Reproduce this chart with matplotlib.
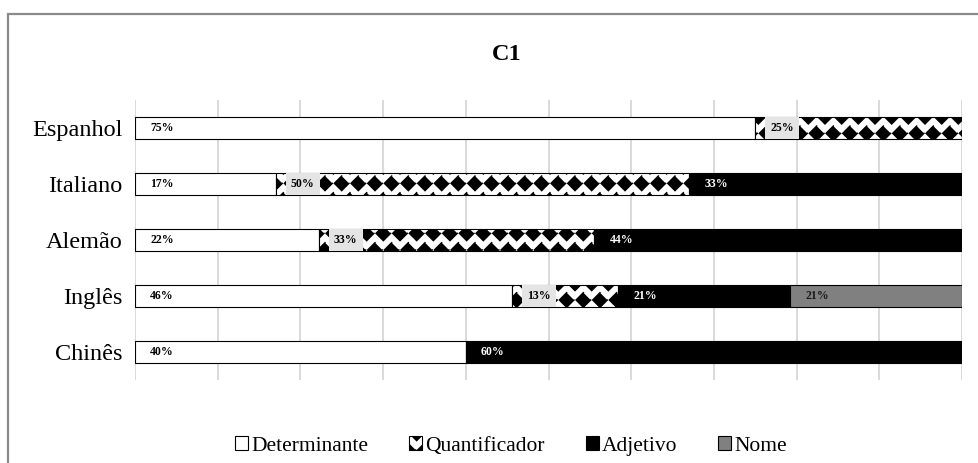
import warnings
import numpy as np
import matplotlib
matplotlib.use("Agg")
import matplotlib.pyplot as plt
import matplotlib.hatch as mhatch
from matplotlib.path import Path
from matplotlib.patches import Rectangle, Patch

warnings.filterwarnings("ignore")

# ---- data -------------------------------------------------------------
languages = ["Espanhol", "Italiano", "Alemão", "Inglês", "Chinês"]
series_names = ["Determinante", "Quantificador", "Adjetivo", "Nome"]
determinante = [75, 17, 22, 46, 40]
quantificador = [25, 50, 33, 13, 0]
adjetivo = [0, 33, 44, 21, 60]
nome = [0, 0, 0, 21, 0]


# ---- filled-diamond hatch ---------------------------------------------
class FilledDiamonds(mhatch.Shapes):
    size = 0.44
    filled = True

    def __init__(self, hatch, density):
        self.num_rows = hatch.count("d") * density
        path = Path.unit_regular_polygon(4)
        self.shape_vertices = path.vertices[:-1]
        self.shape_codes = np.full(len(self.shape_vertices), Path.LINETO,
                                   dtype=Path.code_type)
        self.shape_codes[0] = Path.MOVETO
        super().__init__(hatch, density)


mhatch._hatch_types.append(FilledDiamonds)

plt.rcParams["font.family"] = ["Liberation Serif", "DejaVu Serif"]
plt.rcParams["hatch.linewidth"] = 1.0
plt.rcParams["hatch.color"] = "black"

styles = [
    dict(facecolor="white", hatch=None),
    dict(facecolor="white", hatch="d"),
    dict(facecolor="black", hatch=None),
    dict(facecolor="#808080", hatch=None),
]
label_colors = ["black", "black", "white", "#1a1a1a"]
label_boxes = [None, dict(boxstyle="square,pad=0.45", fc="#e4e4e4", ec="none"), None, None]

fig = plt.figure(figsize=(9.79, 4.63), dpi=100)
ax = fig.add_axes([135 / 979, 1 - 380 / 463, (962 - 135) / 979, 280 / 463])

data = np.array([determinante, quantificador, adjetivo, nome], dtype=float)
shares = data / data.sum(axis=0) * 100
y = np.arange(len(languages))
left = np.zeros(len(languages))

for k, name in enumerate(series_names):
    widths = shares[k]
    ax.barh(y, widths, left=left, height=0.4, edgecolor="black",
            linewidth=0.8, label=name, zorder=3, **styles[k])
    for i in range(len(languages)):
        if data[k, i] <= 0:
            continue
        ax.annotate(f"{int(data[k, i])}%", xy=(left[i], y[i]),
                    xytext=(11, 0), textcoords="offset points",
                    ha="left", va="center", fontsize=8.5, fontweight="bold",
                    color=label_colors[k], bbox=label_boxes[k], zorder=5)
    left += widths

ax.set_xlim(0, 100)
ax.set_ylim(len(languages) - 0.5, -0.5)
ax.set_xticks(np.arange(0, 101, 10))
ax.xaxis.grid(True, color="#d9d9d9", linewidth=1.4, zorder=0)
ax.set_axisbelow(True)
ax.tick_params(axis="x", length=0, labelbottom=False)
ax.tick_params(axis="y", length=0, labelsize=17.5, pad=9)
ax.set_yticks(y)
ax.set_yticklabels(languages)
for side in ["top", "right", "bottom", "left"]:
    ax.spines[side].set_visible(False)

fig.text(507 / 979, 1 - 54 / 463, "C1", ha="center", va="center",
         fontsize=17.5, fontweight="bold")

handles = [Patch(edgecolor="black", linewidth=0.8, label=n, **styles[k])
           for k, n in enumerate(series_names)]
fig.legend(handles=handles, loc="center", bbox_to_anchor=(511 / 979, 1 - 446 / 463),
           ncol=4, frameon=False, fontsize=15.5, handlelength=0.6, handleheight=0.6,
           handletextpad=0.15, columnspacing=1.9)

# chart-area frame
fig.add_artist(Rectangle((8 / 979, -0.5), 1.5, 0.5 + 1 - 14 / 463,
                         transform=fig.transFigure, fill=False,
                         edgecolor="#8a8a8a", linewidth=1.6))

fig.savefig("out.png", dpi=100)
